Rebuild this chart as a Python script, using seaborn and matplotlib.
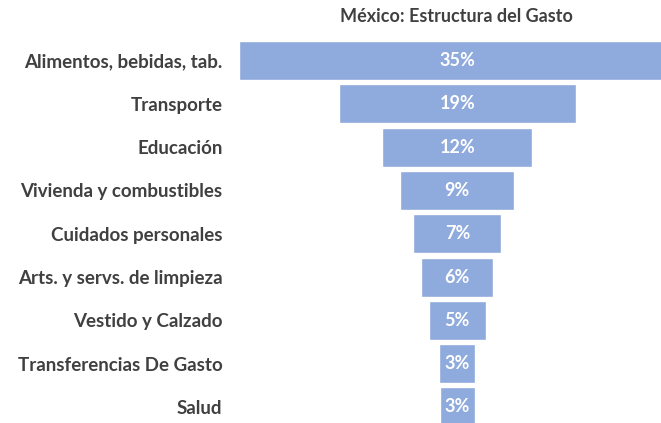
import matplotlib
matplotlib.use("Agg")
import matplotlib.pyplot as plt
import seaborn as sns
import pandas as pd

categorias = ["Alimentos, bebidas, tab.", "Transporte", "Educación",
              "Vivienda y combustibles", "Cuidados personales",
              "Arts. y servs. de limpieza", "Vestido y Calzado",
              "Transferencias De Gasto", "Salud"]
porcentajes = [35.2, 19.1, 12.1, 9.2, 7.1, 5.8, 4.6, 2.9, 2.8]

df = pd.DataFrame({"categoria": categorias, "pct": porcentajes})

sns.set_style("white")
plt.rcParams["font.family"] = ["Lato", "DejaVu Sans"]

fig = plt.figure(figsize=(6.61, 4.23), dpi=100)
ax = fig.add_axes([235 / 661, 0, 1 - 235 / 661, 0.908])

sns.barplot(data=df, x="pct", y="categoria", orient="h", color="#8FAADC",
            saturation=1, width=0.9, edgecolor="white", linewidth=1, ax=ax)

# centrar cada barra para formar el embudo
for patch, v in zip(ax.patches, porcentajes):
    patch.set_x(-v / 2)
    ax.text(0, patch.get_y() + patch.get_height() / 2, f"{round(v)}%",
            ha="center", va="center", color="white", fontsize=13,
            fontweight="bold")

ax.set_xlim(-17.9, 16.4)
ax.set_ylim(8.37, -0.5)
ax.set_xlabel("")
ax.set_ylabel("")
ax.set_xticks([])
ax.tick_params(axis="y", length=0, pad=9, labelsize=13.5, labelcolor="#404040")
for lbl in ax.get_yticklabels():
    lbl.set_fontweight("bold")
sns.despine(ax=ax, left=True, bottom=True)

fig.text(456 / 661, 1 - 17 / 423, "México: Estructura del Gasto", ha="center",
         va="center", fontsize=13, fontweight="bold", color="#404040")

fig.savefig("out.png", dpi=100)
